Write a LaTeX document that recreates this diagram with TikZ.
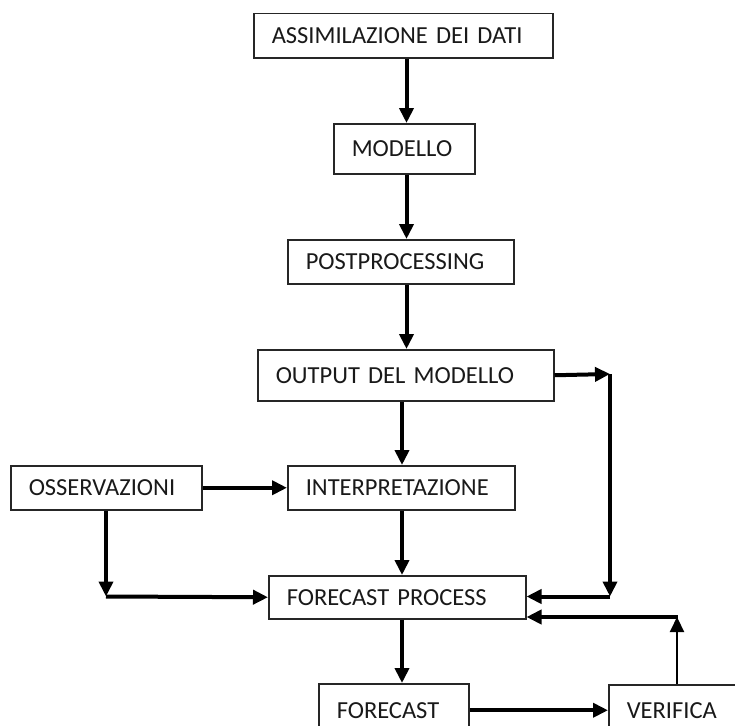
\documentclass[tikz,border=0pt]{standalone}
\usepackage{fontspec}
\setmainfont{Carlito}
\usetikzlibrary{arrows.meta,calc}
\begin{document}
\begin{tikzpicture}[x=1pt,y=-1pt,
  box/.style={draw=black!85,line width=1.5pt,rectangle,anchor=north west,
    inner xsep=18pt,inner ysep=0pt,align=left,text=black!90,
    font=\fontsize{24.5}{26}\selectfont},
  arr/.style={line width=4pt,draw=black,-{Triangle[length=15pt,width=14pt]}},
  thinarr/.style={line width=2.2pt,draw=black,-{Triangle[length=15pt,width=14pt]}}]
\useasboundingbox (0,0) rectangle (735,725);
\clip (0,0) rectangle (735,725);
\fill[white] (0,0) rectangle (735,725);
% boxes: text width = W - 36
\node[box,text width=263pt,minimum height=44pt] (assim) at (253,13) {ASSIMILAZIONE DEI DATI};
\node[box,text width=105pt,minimum height=50pt] (modello) at (333,123) {MODELLO};
\node[box,text width=190pt,minimum height=44pt] (post) at (287,239) {POSTPROCESSING};
\node[box,text width=260pt,minimum height=51pt] (output) at (257,349) {OUTPUT DEL MODELLO};
\node[box,text width=155pt,minimum height=44pt] (osserv) at (10,465) {OSSERVAZIONI};
\node[box,text width=191pt,minimum height=44pt] (interp) at (287,465) {INTERPRETAZIONE};
\node[box,text width=221pt,minimum height=43pt] (fp) at (268,575) {FORECAST PROCESS};
\node[box,text width=114pt,minimum height=53pt] (forecast) at (318,683) {FORECAST};
\node[box,text width=164pt,minimum height=51pt] (verifica) at (608,684) {VERIFICA};
% column coordinates
\coordinate (ca) at (406.5,0);
\coordinate (cb) at (402,0);
\coordinate (co) at (106,0);
\coordinate (cv) at (677,0);
\coordinate (c1) at (106,596.5);
\coordinate (c2) at (610,374);
\coordinate (c3) at (610,596.5);
\coordinate (c4) at (677,617);
% vertical main flow
\draw[arr] (assim.south -| ca) -- (modello.north -| ca);
\draw[arr] (modello.south -| ca) -- (post.north -| ca);
\draw[arr] (post.south -| ca) -- (output.north -| ca);
\draw[arr] (output.south -| cb) -- (interp.north -| cb);
\draw[arr] (interp.south -| cb) -- (fp.north -| cb);
\draw[arr] (fp.south -| cb) -- (forecast.north -| cb);
% osservazioni
\draw[arr] (osserv.east) -- (interp.west);
\draw[arr] (osserv.south -| co) -- (c1);
\draw[arr] (c1) -- (fp.west);
% output loop
\draw[arr] (output.east) -- (c2);
\draw[arr] (c2) -- (c3);
\draw[arr] (c3) -- (fp.east |- c3);
% forecast -> verifica
\draw[arr] (forecast.east) -- (forecast.east -| verifica.west);
% verifica feedback
\draw[thinarr] (verifica.north -| cv) -- (c4);
\draw[arr] ([xshift=1pt]c4) -- (fp.east |- c4);
\end{tikzpicture}
\end{document}
